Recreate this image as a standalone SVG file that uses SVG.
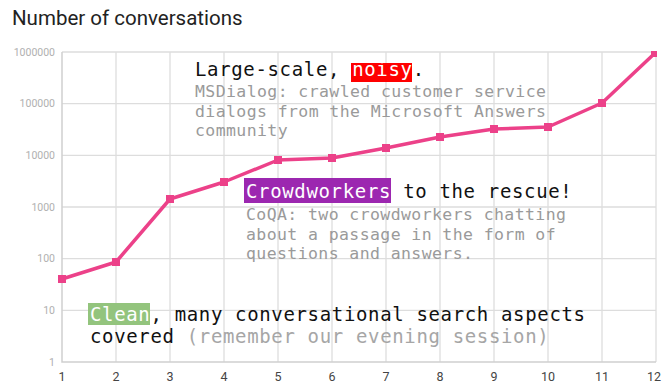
<svg xmlns="http://www.w3.org/2000/svg" width="665" height="389" viewBox="0 0 665 389">
<style>
.grid{stroke:#dddddd;stroke-width:1.3;fill:none}
.ylab{font-family:Roboto,"Liberation Sans",sans-serif;font-size:10.5px;fill:#b0b0b0;text-anchor:end}
.xlab{font-family:Roboto,"Liberation Sans",sans-serif;font-size:12.5px;fill:#444;text-anchor:middle}
.big{font-family:"DejaVu Sans Mono","Liberation Mono",monospace;font-size:19px;letter-spacing:0.65px;fill:#111}
.small{font-family:"DejaVu Sans Mono","Liberation Mono",monospace;font-size:16.5px;letter-spacing:0.4px;fill:#9a9a9a}
.hl{fill:#ffffff}
.mk{fill:#ec4189}
</style>
<rect width="665" height="389" fill="#ffffff"/>
<text x="12" y="25" font-family="Roboto,'Liberation Sans',sans-serif" font-size="20.5" fill="#222">Number of conversations</text>
<g id="grid">
<path class="grid" d="M62 52H656M62 103.7H656M62 155.3H656M62 207H656M62 258.7H656M62 310.3H656"/>
<path class="grid" d="M116 52V362M170 52V362M224 52V362M278 52V362M332 52V362M386 52V362M440 52V362M494 52V362M548 52V362M602 52V362M656 52V362"/>
<path d="M62 52V362H656" stroke="#cfcfcf" stroke-width="1.5" fill="none"/>
</g>
<g id="yaxis">
<text class="ylab" x="55" y="56">1000000</text>
<text class="ylab" x="55" y="107">100000</text>
<text class="ylab" x="55" y="159">10000</text>
<text class="ylab" x="55" y="211">1000</text>
<text class="ylab" x="55" y="262">100</text>
<text class="ylab" x="55" y="314">10</text>
<text class="ylab" x="55" y="366">1</text>
</g>
<g id="xaxis">
<text class="xlab" x="62" y="381">1</text>
<text class="xlab" x="116" y="381">2</text>
<text class="xlab" x="170" y="381">3</text>
<text class="xlab" x="224" y="381">4</text>
<text class="xlab" x="278" y="381">5</text>
<text class="xlab" x="332" y="381">6</text>
<text class="xlab" x="386" y="381">7</text>
<text class="xlab" x="440" y="381">8</text>
<text class="xlab" x="494" y="381">9</text>
<text class="xlab" x="548" y="381">10</text>
<text class="xlab" x="602" y="381">11</text>
<text class="xlab" x="654" y="381">12</text>
</g>
<g id="connectors">
<polyline points="62,279 116,262 170,199 224,182 278,160 332,158 386,148 440,137 494,129 548,127 602,103 654,54" fill="none" stroke="#ec4189" stroke-width="3.5" stroke-linejoin="round"/>
</g>
<g id="points">
<rect class="mk" x="58" y="275" width="8" height="8"/>
<rect class="mk" x="112" y="258" width="8" height="8"/>
<rect class="mk" x="166" y="195" width="8" height="8"/>
<rect class="mk" x="220" y="178" width="8" height="8"/>
<rect class="mk" x="274" y="156" width="8" height="8"/>
<rect class="mk" x="328" y="154" width="8" height="8"/>
<rect class="mk" x="382" y="144" width="8" height="8"/>
<rect class="mk" x="436" y="133" width="8" height="8"/>
<rect class="mk" x="490" y="125" width="8" height="8"/>
<rect class="mk" x="544" y="123" width="8" height="8"/>
<rect class="mk" x="598" y="99" width="8" height="8"/>
<rect class="mk" x="651" y="51" width="6" height="6"/>
</g>
<g id="msdialog">
<rect x="351" y="63" width="61" height="19" fill="#ff0000"/>
<text class="big" x="195" y="76">Large-scale, <tspan class="hl">noisy</tspan>.</text>
<text class="small" x="195" y="97">MSDialog: crawled customer service</text>
<text class="small" x="195" y="117">dialogs from the Microsoft Answers</text>
<text class="small" x="195" y="136">community</text>
</g>
<g id="coqa">
<rect x="244" y="178" width="147" height="25" fill="#9c27b0"/>
<text class="big" x="246" y="198"><tspan class="hl">Crowdworkers</tspan> to the rescue!</text>
<text class="small" x="246" y="220">CoQA: two crowdworkers chatting</text>
<text class="small" x="246" y="240">about a passage in the form of</text>
<text class="small" x="246" y="259">questions and answers.</text>
</g>
<g id="clean">
<rect x="88" y="303" width="62" height="22" fill="#93c47d"/>
<text class="big" x="90" y="321"><tspan class="hl">Clean</tspan>, many conversational search aspects</text>
<text class="big" x="90" y="343">covered <tspan fill="#a6a6a6">(remember our evening session)</tspan></text>
</g>
</svg>
